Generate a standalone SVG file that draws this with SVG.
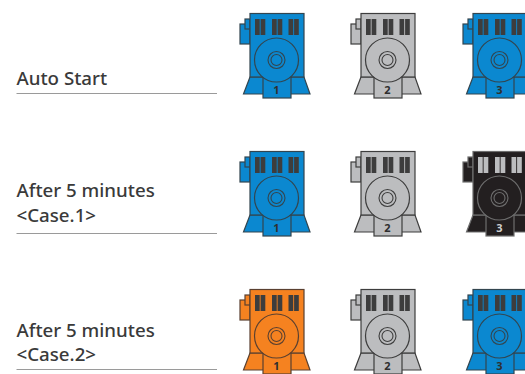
<svg xmlns="http://www.w3.org/2000/svg" width="525" height="374" viewBox="0 0 525 374">
<style>
.lbl{font-family:"Noto Sans","Liberation Sans",sans-serif;font-size:18.7px;font-weight:500;fill:#3a3a3a}
.rule{stroke:#9a9a9a;stroke-width:1;fill:none}
.num{font-family:"Noto Sans","Liberation Sans",sans-serif;font-size:11px;font-weight:700;text-anchor:middle}
.blue{color:#0b88d0;--l:#33454f;--b:#3d3d3d}
.grey{color:#bcbdbf;--l:#3d3d3d;--b:#3d3d3d}
.orange{color:#f58220;--l:#5a4030;--b:#3d3d3d}
.black{color:#231f20;--l:#6e6e6e;--b:#bcbdbf}
.s{fill:currentColor;stroke:var(--l);stroke-width:1.2;stroke-linejoin:miter}
.c{fill:none;stroke:var(--l);stroke-width:1.1}
.bar{fill:var(--b)}
.blue .num,.grey .num,.orange .num{fill:#2f2f2f}
.black .num{fill:#d0d0d0}
</style>
<defs>
<g id="motor">
<path class="s" d="M250 77L243.5 94H310L304 77Z"/>
<rect class="s" x="240" y="24" width="10" height="20"/>
<rect class="s" x="245" y="19" width="5" height="10"/>
<rect class="s" x="250" y="13.5" width="54" height="63.5"/>
<rect class="s" x="263" y="77" width="28" height="21"/>
<circle class="s" cx="276.5" cy="60" r="22"/>
<circle class="c" cx="276.5" cy="60" r="8.5"/>
<circle class="c" cx="276.5" cy="60" r="5.5"/>
<g class="bar">
<rect x="255" y="19" width="4.7" height="16"/><rect x="260.6" y="19" width="4.7" height="16"/>
<rect x="272" y="19" width="4.7" height="16"/><rect x="277.6" y="19" width="4.7" height="16"/>
<rect x="288.5" y="19" width="4.7" height="16"/><rect x="294.1" y="19" width="4.7" height="16"/>
</g>
</g>
</defs>
<g id="label-auto-start"><text class="lbl" x="16.5" y="85">Auto Start</text><line class="rule" x1="16.5" y1="93.5" x2="217" y2="93.5"/></g>
<g id="label-case1"><text class="lbl" x="16.5" y="197">After 5 minutes</text><text class="lbl" x="16.5" y="222">&lt;Case.1&gt;</text><line class="rule" x1="16.5" y1="233.5" x2="217" y2="233.5"/></g>
<g id="label-case2"><text class="lbl" x="16.5" y="337">After 5 minutes</text><text class="lbl" x="16.5" y="361">&lt;Case.2&gt;</text><line class="rule" x1="16.5" y1="369.5" x2="217" y2="369.5"/></g>
<g id="connectors"/>
<g id="r1m1" class="blue"><use href="#motor"/><text class="num" x="276.5" y="94">1</text></g>
<g id="r1m2" class="grey" transform="translate(111,0)"><use href="#motor"/><text class="num" x="276.5" y="94">2</text></g>
<g id="r1m3" class="blue" transform="translate(223,0)"><use href="#motor"/><text class="num" x="276.5" y="94">3</text></g>
<g id="r2m1" class="blue" transform="translate(0,138)"><use href="#motor"/><text class="num" x="276.5" y="94">1</text></g>
<g id="r2m2" class="grey" transform="translate(111,138)"><use href="#motor"/><text class="num" x="276.5" y="94">2</text></g>
<g id="r2m3" class="black" transform="translate(223,138)"><use href="#motor"/><text class="num" x="276.5" y="94">3</text></g>
<g id="r3m1" class="orange" transform="translate(0,276)"><use href="#motor"/><text class="num" x="276.5" y="94">1</text></g>
<g id="r3m2" class="grey" transform="translate(111,276)"><use href="#motor"/><text class="num" x="276.5" y="94">2</text></g>
<g id="r3m3" class="blue" transform="translate(223,276)"><use href="#motor"/><text class="num" x="276.5" y="94">3</text></g>
</svg>
